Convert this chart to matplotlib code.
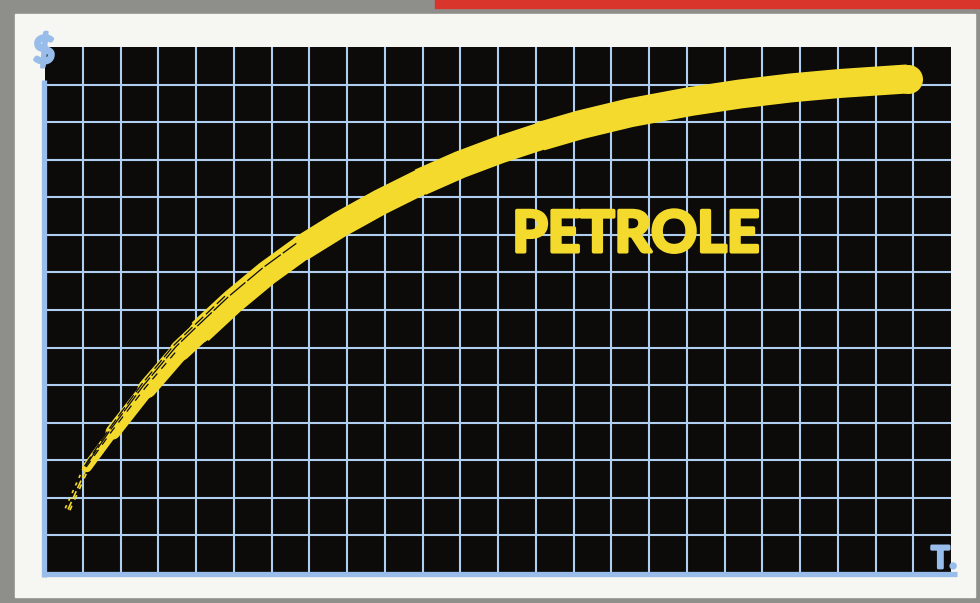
import numpy as np
import matplotlib
matplotlib.use('Agg')
import matplotlib.pyplot as plt
import matplotlib.patheffects as pe
from matplotlib.collections import LineCollection
from matplotlib.patches import Rectangle

# courbe du prix du petrole (unites = cases de la grille)
temps = [0.61, 1.11, 1.80, 2.70, 3.58, 4.11, 4.98, 5.88, 6.76, 7.82, 8.88, 9.94,
         11.00, 12.06, 13.12, 14.18, 15.50, 17.10, 18.42, 19.75, 21.07, 22.85]
prix = [1.69, 2.81, 3.75, 4.90, 5.92, 6.42, 7.23, 7.98, 8.62, 9.28, 9.87, 10.40,
        10.87, 11.27, 11.62, 11.93, 12.25, 12.55, 12.75, 12.91, 13.03, 13.15]
titre = "PETROLE"
label_prix = "$"
label_temps = "T."
nb_col = 24
nb_lig = 14

jaune = '#f3da2c'
bleu = '#b0cff0'
bleu_axe = '#98bdea'
noir = '#0c0b0a'
police = ['Lato', 'DejaVu Sans']

W, H = 980, 603
fig = plt.figure(figsize=(W / 100, H / 100), dpi=100)
fig.patch.set_facecolor('#8e8e8b')

# fond blanc du cadre + bande rouge en haut
fig.patches.append(Rectangle((15 / W, 6 / H), 960 / W, 583 / H,
                             transform=fig.transFigure, color='#f6f6f3', zorder=-10))
fig.patches.append(Rectangle((435 / W, 595 / H), 545 / W, 8 / H,
                             transform=fig.transFigure, color='#d9352b', zorder=-10))

ax = fig.add_axes([45 / W, 30 / H, 906 / W, 526 / H])
ax.set_facecolor(noir)
ax.set_xlim(0, nb_col)
ax.set_ylim(0, nb_lig)
ax.set_xticks([])
ax.set_yticks([])
for s in ax.spines.values():
    s.set_visible(False)

# quadrillage
for i in range(1, nb_col):
    ax.axvline(i, color=bleu, lw=1.5, zorder=1)
for j in range(1, nb_lig):
    ax.axhline(j, color=bleu, lw=1.5, zorder=1)

# axes epais
ax.plot([-0.03, -0.03], [-0.1, 13.12], color=bleu_axe, lw=3.8, clip_on=False,
        solid_capstyle='butt', zorder=3)
ax.plot([-0.08, 24.15], [-0.03, -0.03], color=bleu_axe, lw=3.8, clip_on=False,
        solid_capstyle='butt', zorder=3)

x = np.array(temps)
y = np.array(prix)
pts = np.column_stack([x, y])
px2pt = 0.72

# corps du trait : polylignes d'epaisseur constante qui se superposent
for debut, larg in [(5, 25), (8, 26), (11, 27.5), (14, 29)]:
    ax.plot(x[debut:], y[debut:], color=jaune, lw=larg * px2pt,
            solid_capstyle='butt', solid_joinstyle='round', zorder=4)
# bout arrondi
ax.plot(x[-1], y[-1], 'o', ms=29 * px2pt, color=jaune, mew=0, zorder=4)

# debut du trait qui s'affine (pinceau sec)
larg_px = np.clip(26 * (1 - np.exp(-(x - 0.5) / 2.0)), 1.5, 25)
segs = [pts[k:k + 2] for k in range(1, 6)]
lw = [px2pt * (larg_px[k] + larg_px[k + 1]) / 2 for k in range(1, 6)]
ax.add_collection(LineCollection(segs, linewidths=lw, colors=jaune, capstyle='round',
                                 joinstyle='round', zorder=4))

# normales (vers le haut/gauche)
d = np.gradient(pts, axis=0)
n = np.column_stack([-d[:, 1], d[:, 0]])
n = n / np.linalg.norm(n, axis=1)[:, None]
unite = 37.6  # pixels par case

# filets du depart
for dec, pat in [(0.0, (5, 2)), (3.0, (2, 3)), (-2.0, (3, 4))]:
    p = pts[:4] + n[:4] * dec / unite
    ax.plot(p[:, 0], p[:, 1], color=jaune, lw=1.2, dashes=pat, zorder=4)

# stries noires du cote exterieur
for dec, fin, pat in [(0.28, 9, (16, 2)), (0.40, 7, (9, 3)), (0.12, 5, (6, 5))]:
    p = pts[1:fin] + n[1:fin] * (dec * larg_px[1:fin] / unite)[:, None]
    ax.plot(p[:, 0], p[:, 1], color=noir, lw=0.9, dashes=pat, zorder=5)

gras = [pe.withStroke(linewidth=2.6, foreground=jaune)]
ax.text(15.66, 8.99, titre, color=jaune, fontsize=41, fontweight='bold',
        family=police, ha='center', va='center', zorder=6, path_effects=gras)

gras_bleu = [pe.withStroke(linewidth=2.0, foreground=bleu_axe)]
fig.text(44 / W, 1 - 51 / H, label_prix, color=bleu_axe, fontsize=27,
         fontweight='bold', family=police, ha='center', va='center',
         path_effects=gras_bleu)
fig.text(944 / W, 1 - 559 / H, label_temps, color=bleu_axe, fontsize=22,
         fontweight='bold', family=police, ha='center', va='center',
         path_effects=gras_bleu)

plt.savefig('out.png', dpi=100, facecolor=fig.get_facecolor())
